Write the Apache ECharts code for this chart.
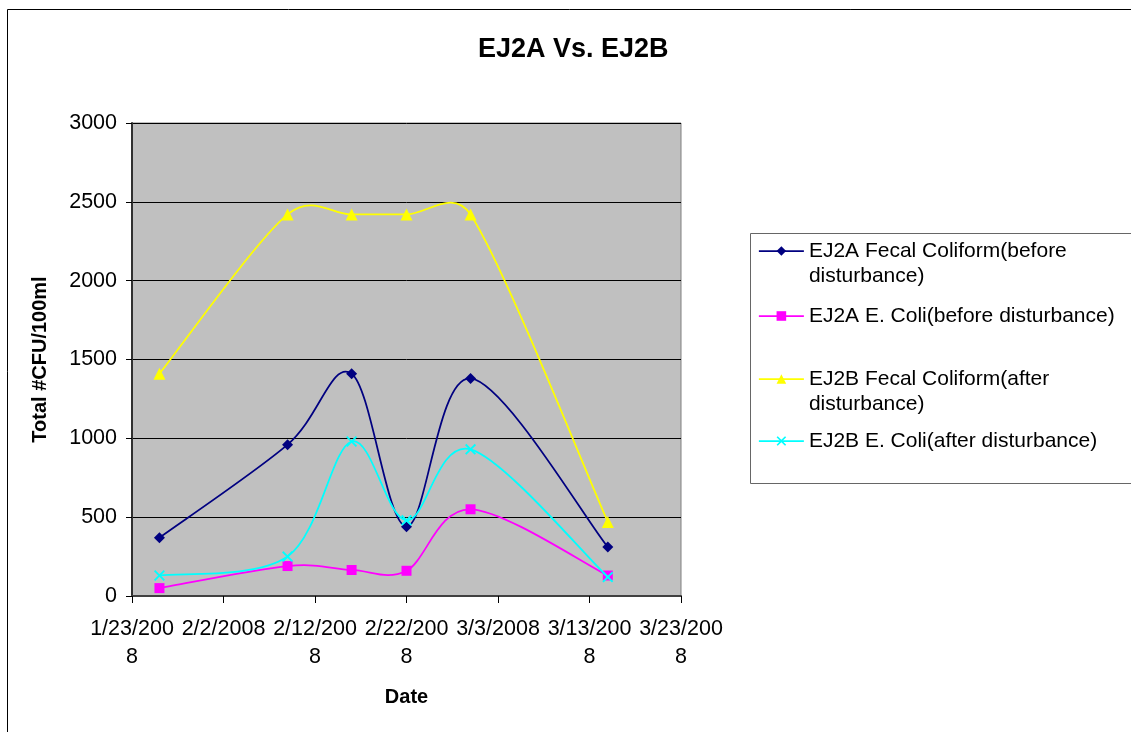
<!DOCTYPE html>
<html>
<head>
<meta charset="utf-8">
<title>EJ2A Vs. EJ2B</title>
<script src="https://cdn.jsdelivr.net/npm/echarts@6/dist/echarts.min.js"></script>
<style>
  html, body { margin: 0; padding: 0; background: #ffffff; overflow: hidden; }
  #chart { width: 1131px; height: 732px; }
</style>
</head>
<body>
<div id="chart"></div>
<script>
// Sampling dates and bacteria counts (CFU per 100 ml)
const sampleDates = ['2008-01-26', '2008-02-09', '2008-02-16', '2008-02-22', '2008-02-29', '2008-03-15'];
const ej2aFecal = [370, 960, 1410, 440, 1380, 310];
const ej2aEcoli = [50, 190, 165, 160, 550, 130];
const ej2bFecal = [1410, 2420, 2420, 2420, 2420, 470];
const ej2bEcoli = [130, 250, 980, 480, 930, 120];

const seriesNames = [
  'EJ2A Fecal Coliform(before disturbance)',
  'EJ2A E. Coli(before disturbance)',
  'EJ2B Fecal Coliform(after disturbance)',
  'EJ2B E. Coli(after disturbance)'
];
const legendLabels = [
  'EJ2A Fecal Coliform(before\ndisturbance)',
  'EJ2A E. Coli(before disturbance)',
  'EJ2B Fecal Coliform(after\ndisturbance)',
  'EJ2B E. Coli(after disturbance)'
];

// Date axis range (10-day steps) and count axis range
const axisStart = '2008-01-23';
const axisEnd = '2008-03-23';
const dayStep = 10;
const yMin = 0, yMax = 3000, yStep = 500;

const DAY = 86400000;
function toUTC(s) {
  const p = s.split('-').map(Number);
  return Date.UTC(p[0], p[1] - 1, p[2]);
}
const t0 = toUTC(axisStart);
function dayOffset(s) { return Math.round((toUTC(s) - t0) / DAY); }
function dateLabel(v) {
  const d = new Date(t0 + v * DAY);
  const s = (d.getUTCMonth() + 1) + '/' + d.getUTCDate() + '/' + d.getUTCFullYear();
  return s.length > 8 ? s.slice(0, 8) + '\n' + s.slice(8) : s;
}
function pairs(values) {
  return sampleDates.map((dt, i) => [dayOffset(dt), values[i]]);
}

const FONT = "'Liberation Sans', Arial, sans-serif";
const xMark = 'path://M0,1.2L1.2,0L5,3.8L8.8,0L10,1.2L6.2,5L10,8.8L8.8,10L5,6.2L1.2,10L0,8.8L3.8,5Z';
const LINE_W = 1.75;

const styles = [
  { color: '#000080', symbol: 'diamond', size: 11 },
  { color: '#FF00FF', symbol: 'rect', size: 10 },
  { color: '#FFFF00', symbol: 'triangle', size: 12 },
  { color: '#00FFFF', symbol: xMark, size: 11 }
];
const seriesValues = [ej2aFecal, ej2aEcoli, ej2bFecal, ej2bEcoli];

// Tangent handle for a smoothed segment: 1/6 of the neighbour chord,
// limited to half of the segment it belongs to.
function handle(prev, next, segLen) {
  let vx = (next[0] - prev[0]) / 6, vy = (next[1] - prev[1]) / 6;
  const len = Math.hypot(vx, vy);
  const lim = segLen / 2;
  if (len > lim && len > 0) { vx *= lim / len; vy *= lim / len; }
  return [vx, vy];
}

// Smoothed connecting curve drawn as cubic Bezier segments in pixel space.
function curveSeries(values, color, idx) {
  const pts = pairs(values);
  return {
    id: 'curve' + idx,
    type: 'custom',
    coordinateSystem: 'cartesian2d',
    data: pts,
    encode: { x: 0, y: 1 },
    clip: true,
    silent: true,
    z: 2 + idx * 2,
    renderItem: function (params, api) {
      const i = params.dataIndex;
      if (i >= pts.length - 1) return null;
      const c = k => api.coord(pts[Math.max(0, Math.min(pts.length - 1, k))]);
      const p0 = c(i - 1), p1 = c(i), p2 = c(i + 1), p3 = c(i + 2);
      const seg = Math.hypot(p2[0] - p1[0], p2[1] - p1[1]);
      const h1 = handle(p0, p2, seg);
      const h2 = handle(p1, p3, seg);
      return {
        type: 'bezierCurve',
        shape: {
          x1: p1[0], y1: p1[1], x2: p2[0], y2: p2[1],
          cpx1: p1[0] + h1[0], cpy1: p1[1] + h1[1],
          cpx2: p2[0] - h2[0], cpy2: p2[1] - h2[1]
        },
        style: { stroke: color, lineWidth: LINE_W, fill: null }
      };
    }
  };
}

const series = [];
seriesNames.forEach((name, i) => {
  series.push(curveSeries(seriesValues[i], styles[i].color, i));
  series.push({
    name: name,
    type: 'line',
    data: pairs(seriesValues[i]),
    symbol: styles[i].symbol,
    symbolSize: styles[i].size,
    showAllSymbol: true,
    lineStyle: { color: styles[i].color, width: LINE_W, opacity: 0 },
    itemStyle: { color: styles[i].color },
    emphasis: { disabled: true },
    z: 3 + i * 2
  });
});

// one legend block per entry; a leading blank line keeps the icon
// level with the first text line of the wrapped entries
const legendIconY = [251, 316, 379, 441];
const legends = seriesNames.map((name, i) => {
  const twoLines = legendLabels[i].indexOf('\n') >= 0;
  return {
    data: [name],
    left: 758,
    top: twoLines ? legendIconY[i] - 37.5 : legendIconY[i] - 12.5,
    padding: 0,
    itemWidth: 45,
    itemHeight: 12,
    selectedMode: false,
    formatter: () => (twoLines ? '\n' : '') + legendLabels[i],
    lineStyle: { color: styles[i].color, width: LINE_W, opacity: 1, type: 'solid' },
    textStyle: {
      fontFamily: FONT,
      fontSize: 21,
      color: '#000',
      lineHeight: 25
    }
  };
});

const chart = echarts.init(document.getElementById('chart'), null, { renderer: 'canvas' });
chart.setOption({
  animation: false,
  backgroundColor: '#ffffff',
  title: {
    text: 'EJ2A Vs. EJ2B',
    left: 478,
    top: 36,
    padding: 0,
    textStyle: { fontFamily: FONT, fontSize: 27, fontWeight: 'bold', color: '#000' }
  },
  graphic: [
    {
      type: 'rect',
      shape: { x: 7.5, y: 9.5, width: 1200, height: 800 },
      style: { fill: null, stroke: '#000', lineWidth: 1 },
      silent: true, z: -1
    },
    {
      type: 'rect',
      shape: { x: 750.5, y: 233.5, width: 600, height: 250 },
      style: { fill: '#fff', stroke: '#666', lineWidth: 1 },
      silent: true, z: -1
    }
  ],
  legend: legends,
  grid: {
    left: 132, top: 123, right: 450, bottom: 136,
    show: true,
    backgroundColor: '#C0C0C0',
    borderColor: '#808080',
    borderWidth: 1
  },
  xAxis: {
    type: 'value',
    min: 0,
    max: dayOffset(axisEnd),
    interval: dayStep,
    name: 'Date',
    nameLocation: 'middle',
    nameGap: 91,
    nameTextStyle: { fontFamily: FONT, fontSize: 20, fontWeight: 'bold', color: '#000' },
    axisLine: { show: true, onZero: false, lineStyle: { color: '#404040', width: 2 } },
    axisTick: { show: true, length: 7, lineStyle: { color: '#000', width: 1 } },
    axisLabel: {
      margin: 19,
      fontFamily: FONT, fontSize: 21.5, color: '#000', lineHeight: 28,
      formatter: dateLabel,
      showMinLabel: true, showMaxLabel: true, hideOverlap: false
    },
    splitLine: { show: false }
  },
  yAxis: {
    type: 'value',
    min: yMin, max: yMax, interval: yStep,
    name: 'Total #CFU/100ml',
    nameLocation: 'middle',
    nameGap: 82,
    nameTextStyle: { fontFamily: FONT, fontSize: 20, fontWeight: 'bold', color: '#000' },
    axisLine: { show: true, lineStyle: { color: '#303030', width: 2 } },
    axisTick: { show: true, length: 6, lineStyle: { color: '#000', width: 1 } },
    axisLabel: {
      margin: 15, fontFamily: FONT, fontSize: 21.5, color: '#000',
      formatter: v => String(v)
    },
    splitLine: { show: true, lineStyle: { color: '#000', width: 1 } }
  },
  series: series
});
</script>
</body>
</html>
